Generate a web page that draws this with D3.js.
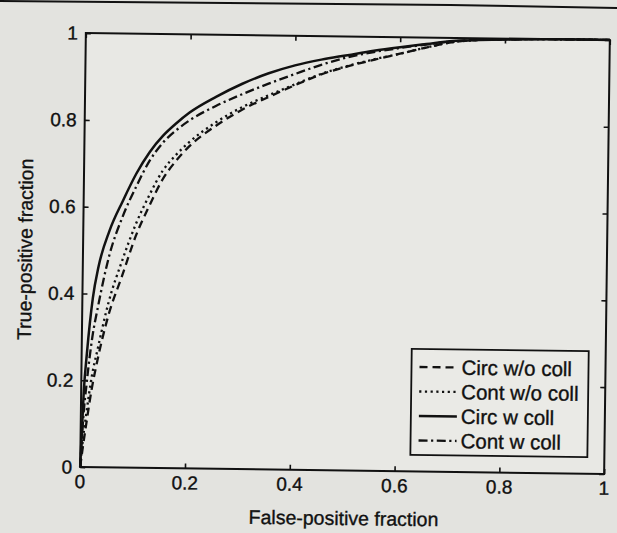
<!DOCTYPE html>
<html>
<head>
<meta charset="utf-8">
<script src="https://cdn.jsdelivr.net/npm/d3@7"></script>
<style>
  html, body { margin: 0; padding: 0; background: #e3e3df; }
  svg { display: block; font-family: "Liberation Sans", Arial, Helvetica, sans-serif; }
</style>
</head>
<body>
<div id="chart"></div>
<script>
// shared false-positive grid
const FPR = [0, 0.005, 0.01, 0.02, 0.03, 0.05, 0.075, 0.1, 0.125, 0.15, 0.175, 0.2,
             0.25, 0.3, 0.35, 0.4, 0.45, 0.5, 0.55, 0.6, 0.65, 0.7, 0.75, 0.8, 0.9, 1];

// true-positive fraction per curve
const TPR_CIRC_WO_COLL = [0, 0.05, 0.095, 0.18, 0.245, 0.35, 0.441, 0.533, 0.603, 0.665, 0.708, 0.742,
                          0.79, 0.828, 0.858, 0.886, 0.912, 0.931, 0.947, 0.962, 0.977, 0.99, 0.996, 0.998, 1, 1];
const TPR_CONT_WO_COLL = [0, 0.07, 0.12, 0.21, 0.27, 0.38, 0.477, 0.561, 0.628, 0.685, 0.722, 0.752,
                          0.798, 0.834, 0.862, 0.888, 0.913, 0.932, 0.948, 0.962, 0.977, 0.99, 0.996, 0.998, 1, 1];
const TPR_CIRC_W_COLL  = [0, 0.175, 0.262, 0.39, 0.462, 0.545, 0.615, 0.678, 0.728, 0.766, 0.795, 0.82,
                          0.857, 0.888, 0.913, 0.932, 0.946, 0.957, 0.968, 0.977, 0.985, 0.993, 0.996, 0.998, 1, 1];
const TPR_CONT_W_COLL  = [0, 0.12, 0.19, 0.30, 0.37, 0.487, 0.579, 0.648, 0.708, 0.75, 0.779, 0.802,
                          0.836, 0.864, 0.889, 0.912, 0.934, 0.952, 0.965, 0.975, 0.984, 0.992, 0.996, 0.998, 1, 1];

const SERIES_NAMES = ["Circ w/o coll", "Cont w/o coll", "Circ w coll", "Cont w coll"];
const X_TICKS = [0, 0.2, 0.4, 0.6, 0.8, 1];
const Y_TICKS = [0, 0.2, 0.4, 0.6, 0.8, 1];
const TICK_LABELS = ["0", "0.2", "0.4", "0.6", "0.8", "1"];

const W = 617, H = 533;
const plot = { left: 83, right: 607, top: 36.5, bottom: 470.5 };
const ink = "#111";

const svg = d3.select("#chart").append("svg")
  .attr("width", W).attr("height", H).attr("viewBox", `0 0 ${W} ${H}`);

// scan edge at the top of the page
svg.append("path").attr("d", "M0,1 L450,5 L617,8")
  .attr("fill", "none").attr("stroke", ink).attr("stroke-width", 2);

// the scan is turned a little clockwise
const g = svg.append("g").attr("transform", "rotate(0.75,345,253)");

const x = d3.scaleLinear().domain([0, 1]).range([plot.left, plot.right]);
const y = d3.scaleLinear().domain([0, 1]).range([plot.bottom, plot.top]);

// frame
g.append("rect")
  .attr("x", plot.left).attr("y", plot.top)
  .attr("width", plot.right - plot.left).attr("height", plot.bottom - plot.top)
  .attr("fill", "#e8e8e4").attr("stroke", ink).attr("stroke-width", 2);

// inward ticks on all four sides
const tl = 5;
g.append("g").call(d3.axisBottom(x).tickValues(X_TICKS).tickSize(-tl).tickFormat(""))
  .attr("transform", `translate(0,${plot.bottom})`);
g.append("g").call(d3.axisTop(x).tickValues(X_TICKS).tickSize(-tl).tickFormat(""))
  .attr("transform", `translate(0,${plot.top})`);
g.append("g").call(d3.axisLeft(y).tickValues(Y_TICKS).tickSize(-tl).tickFormat(""))
  .attr("transform", `translate(${plot.left},0)`);
g.append("g").call(d3.axisRight(y).tickValues(Y_TICKS).tickSize(-tl).tickFormat(""))
  .attr("transform", `translate(${plot.right},0)`);
g.selectAll(".domain").remove();
g.selectAll(".tick line").attr("stroke", ink).attr("stroke-width", 1.6);

// text gets a hairline stroke so it reads as heavy as the scan
function inked(sel, size) {
  return sel.style("font-size", size).style("fill", ink)
    .style("stroke", ink).style("stroke-width", "0.35px");
}

// tick labels
inked(g.selectAll(".xlab").data(X_TICKS).enter().append("text")
  .attr("x", d => x(d)).attr("y", plot.bottom + 21)
  .attr("text-anchor", "middle"), "19px")
  .text((d, i) => TICK_LABELS[i]);
inked(g.selectAll(".ylab").data(Y_TICKS).enter().append("text")
  .attr("x", plot.left - 8).attr("y", d => y(d)).attr("dy", "0.35em")
  .attr("text-anchor", "end"), "19px")
  .text((d, i) => TICK_LABELS[i]);

// axis titles
inked(g.append("text").attr("x", (plot.left + plot.right) / 2 + 2).attr("y", 525)
  .attr("text-anchor", "middle"), "19.5px")
  .text("False-positive fraction");
inked(g.append("text").attr("transform", `translate(32,${(plot.top + plot.bottom) / 2}) rotate(-90)`)
  .attr("text-anchor", "middle"), "19.5px")
  .text("True-positive fraction");

// curves
const series = [
  { name: SERIES_NAMES[0], tpr: TPR_CIRC_WO_COLL, dash: "8,5",         width: 2.3 },
  { name: SERIES_NAMES[1], tpr: TPR_CONT_WO_COLL, dash: "2.2,3.5",     width: 2.3 },
  { name: SERIES_NAMES[2], tpr: TPR_CIRC_W_COLL,  dash: null,          width: 2.5 },
  { name: SERIES_NAMES[3], tpr: TPR_CONT_W_COLL,  dash: "9,3.5,2.2,3.5", width: 2.3 },
];

const line = d3.line()
  .x(d => x(d[0])).y(d => y(d[1]))
  .curve(d3.curveMonotoneX);

g.append("g").selectAll("path").data(series).enter().append("path")
  .attr("d", s => line(FPR.map((f, i) => [f, s.tpr[i]])))
  .attr("fill", "none").attr("stroke", ink)
  .attr("stroke-width", s => s.width)
  .attr("stroke-dasharray", s => s.dash);

// legend
const lg = g.append("g").attr("transform", "translate(413,348)");
lg.append("rect").attr("width", 177).attr("height", 106)
  .attr("fill", "#eaeae6").attr("stroke", ink).attr("stroke-width", 1.8);
const row = lg.selectAll("g").data(series).enter().append("g")
  .attr("transform", (d, i) => `translate(0,${18 + i * 24.5})`);
row.append("line").attr("x1", 8).attr("x2", 46).attr("y1", 0).attr("y2", 0)
  .attr("stroke", ink).attr("stroke-width", s => s.width)
  .attr("stroke-dasharray", s => s.dash);
inked(row.append("text").attr("x", 50).attr("y", 0).attr("dy", "0.35em"), "20.5px")
  .text(s => s.name);
</script>
</body>
</html>
